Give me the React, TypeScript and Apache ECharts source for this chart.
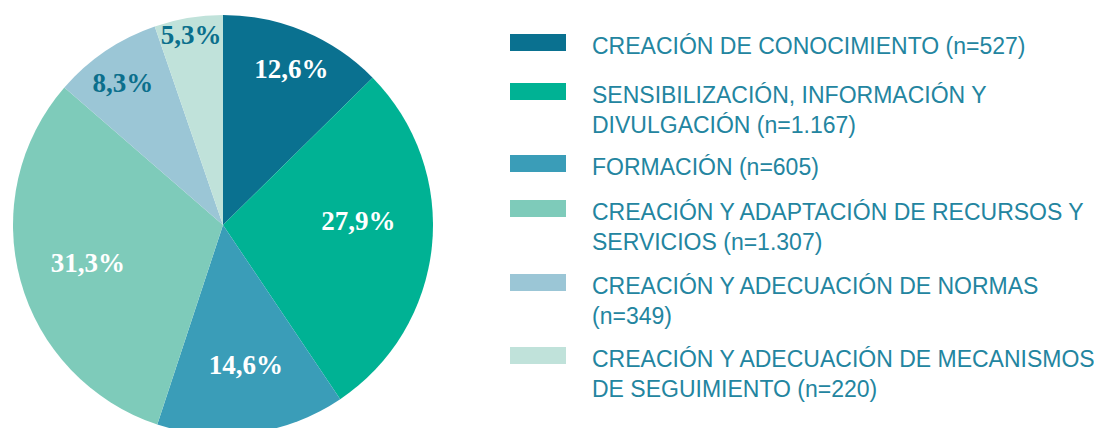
import React, { useEffect, useRef } from "react";
import * as echarts from "echarts";

const categories = [
  "CREACIÓN DE CONOCIMIENTO",
  "SENSIBILIZACIÓN, INFORMACIÓN Y DIVULGACIÓN",
  "FORMACIÓN",
  "CREACIÓN Y ADAPTACIÓN DE RECURSOS Y SERVICIOS",
  "CREACIÓN Y ADECUACIÓN DE NORMAS",
  "CREACIÓN Y ADECUACIÓN DE MECANISMOS DE SEGUIMIENTO",
];
const counts = [527, 1167, 605, 1307, 349, 220];
const pctLabels = ["12,6%", "27,9%", "14,6%", "31,3%", "8,3%", "5,3%"];
const legendLabels = [
  "CREACIÓN DE CONOCIMIENTO (n=527)",
  "SENSIBILIZACIÓN, INFORMACIÓN Y\nDIVULGACIÓN (n=1.167)",
  "FORMACIÓN (n=605)",
  "CREACIÓN Y ADAPTACIÓN DE RECURSOS Y\nSERVICIOS (n=1.307)",
  "CREACIÓN Y ADECUACIÓN DE NORMAS\n(n=349)",
  "CREACIÓN Y ADECUACIÓN DE MECANISMOS\nDE SEGUIMIENTO (n=220)",
];
const colors = ["#0a7190", "#00b294", "#3a9db8", "#7ecbba", "#9bc6d6", "#c0e2da"];
const labelColors = ["#ffffff", "#ffffff", "#ffffff", "#ffffff", "#0b6f8c", "#0b6f8c"];
// which label ring each slice's label sits in, plus small nudges
const labelRing = [1, 0, 0, 0, 1, 2];
const ringRadii: [number, number][] = [
  [62, 210],
  [128, 210],
  [172, 210],
];
const nudgeX = [2, -3, 4, -1, -4, 0];
const nudgeY = [3, -18, 2, 1, 1, 1];
const legendTops = [24.5, 43.5, 145.5, 160.5, 234.5, 307.5];

export default function App() {
  const ref = useRef<HTMLDivElement>(null);
  useEffect(() => {
    if (!ref.current) return;
    const chart = echarts.init(ref.current, undefined, { renderer: "svg" });
    const center = [223, 225];
    const mainData = categories.map((c, i) => ({
      name: c,
      value: counts[i],
      itemStyle: { color: colors[i] },
    }));
    const labelSeries = ringRadii.map((r, k) => ({
      type: "pie",
      center,
      radius: r,
      silent: true,
      legendHoverLink: false,
      startAngle: 90,
      itemStyle: { color: "rgba(0,0,0,0)", borderWidth: 0 },
      labelLine: { show: false },
      labelLayout: (p: any) => ({ dx: nudgeX[p.dataIndex], dy: nudgeY[p.dataIndex] }),
      data: categories.map((c, i) => ({
        name: c,
        value: counts[i],
        label: {
          show: labelRing[i] === k,
          position: "inside",
          formatter: pctLabels[i],
          color: labelColors[i],
          fontFamily: "Liberation Serif",
          fontWeight: "bold",
          fontSize: 27,
        },
      })),
    }));
    const legends = categories.map((c, i) => {
      const twoLine = legendLabels[i].includes("\n");
      return {
        orient: "vertical",
        left: 510,
        top: legendTops[i],
        padding: 0,
        selectedMode: false,
        itemWidth: 56,
        itemHeight: 17,
        icon: "rect",
        data: [c],
        formatter: () => legendLabels[i],
        textStyle: {
          fontFamily: "Liberation Sans",
          fontSize: 23,
          lineHeight: 30,
          color: "#2385a0",
          padding: [twoLine ? 36 : 6, 0, 0, 21],
          rich: { a: { fontSize: 23 } },
        },
      };
    });
    chart.setOption({
      animation: false,
      legend: legends,
      series: [
        {
          type: "pie",
          center,
          radius: [0, 210],
          startAngle: 90,
          silent: true,
          label: { show: false },
          labelLine: { show: false },
          itemStyle: { borderWidth: 0 },
          data: mainData,
        },
        ...labelSeries,
      ],
    });
    return () => chart.dispose();
  }, []);
  return (
    <div
      ref={ref}
      style={{ position: "absolute", left: 0, top: 0, width: 1094, height: 428 }}
    />
  );
}
